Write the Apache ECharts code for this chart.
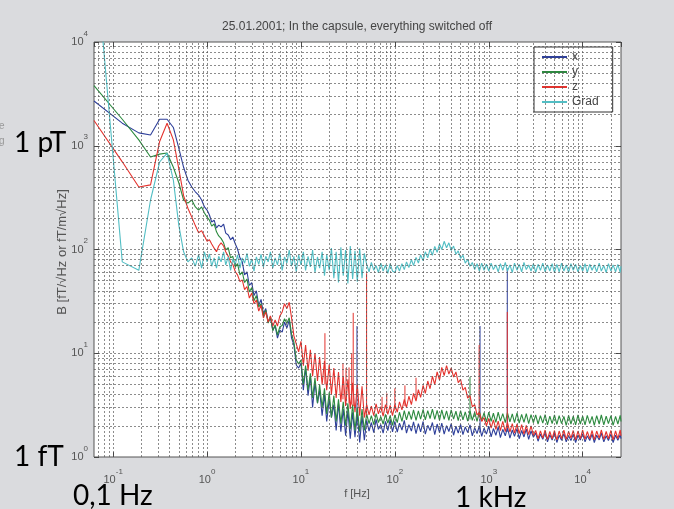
<!DOCTYPE html>
<html><head><meta charset="utf-8">
<script src="https://cdn.jsdelivr.net/npm/echarts@6/dist/echarts.min.js"></script>
<style>html,body{margin:0;padding:0;background:#dadbde}#c{width:674px;height:509px}</style>
</head><body><div id="c"></div>
<script>
const freq = [0.0625,0.125,0.1875,0.25,0.3125,0.375,0.4375,0.5,0.5625,0.625,0.6875,0.75,0.8125,0.875,0.9375,1,
1.06,1.12,1.19,1.26,1.33,1.41,1.5,1.58,1.68,1.78,1.88,2,2.11,2.24,2.37,2.51,2.66,2.82,2.99,3.16,3.35,3.55,3.76,3.98,4.22,4.47,4.73,5.01,5.31,5.62,5.96,6.31,6.68,7.08,7.5,7.94,8.41,8.91,9.44,
10,10.6,11.2,11.9,12.6,13.3,14.1,15,15.8,16.8,17.8,18.8,20,21.1,22.4,23.7,25.1,26.6,28.2,29.9,31.6,33.5,35.5,37.6,39.8,42.2,44.7,47.3,50.1,53.1,56.2,59.6,63.1,66.8,70.8,75,79.4,84.1,89.1,94.4,
100,106,112,119,126,133,141,150,158,168,178,188,200,211,224,237,251,266,282,299,316,335,355,376,398,422,447,473,501,531,562,596,631,668,708,750,794,841,891,944,
1000,1060,1120,1190,1260,1330,1410,1500,1580,1680,1780,1880,2000,2110,2240,2370,2510,2660,2820,2990,3160,3350,3550,3760,3980,4220,4470,4730,5010,5310,5620,5960,6310,6680,7080,7500,7940,8410,8910,9440,
10000,10600,11200,11900,12600,13300,14100,15000,15800,16800,17800,18800,20000,21100,22400,23700,25100,25600];

const xVals = [2700,1650,1330,1270,1800,1800,1500,950,620,466,400,360,335,300,257,240,
215,184,192,161,172,165,176,144,138,124,132,113,101,83,76,57,61,45,48,36,40,29,33,24,27,20,22,16.7,18.3,14.0,16.7,16.0,20,17.5,20.9,14.0,12.0,7.7,7.2,
8.0,4.4,7.2,3.9,6.0,3.0,5.2,3.3,4.4,2.5,4.0,2.2,3.6,2.4,3.2,1.8,3.3,1.75,2.9,1.6,2.8,1.5,2.7,1.55,2.6,1.38,2.5,1.45,
2.25,1.78,2.15,1.72,2.3,1.85,2.05,1.7,2.2,1.8,2.28,1.75,
2.2,1.74,2.12,1.82,2.26,1.7,2.05,1.78,2.18,1.68,2.1,1.75,2.2,1.66,2.02,1.8,2.15,1.64,2.08,1.72,2.12,1.66,2.0,1.76,2.1,1.62,1.98,1.7,2.06,1.64,1.95,1.72,2.04,1.6,1.92,1.68,2.0,1.58,1.9,1.66,
1.98,1.56,1.88,1.62,1.95,1.54,1.85,1.6,1.92,1.52,1.82,1.58,1.88,1.5,1.8,1.56,1.86,1.48,1.78,1.55,1.7,1.42,1.66,1.48,1.72,1.4,1.64,1.46,1.7,1.38,1.62,1.45,1.68,1.4,1.6,1.44,1.66,1.38,1.62,1.46,
1.68,1.4,1.6,1.44,1.66,1.38,1.62,1.46,1.7,1.4,1.6,1.44,1.66,1.38,1.62,1.45,1.64,1.5];

const yVals = [3800,1800,1140,780,830,850,620,440,300,280,300,257,240,257,225,205,
192,168,176,148,135,128,116,99,104,83,86,68,73,57,61,48,52,39,43,32,36,28,30,23,26,19.5,22.5,16.5,18.8,15.0,18.0,18.5,21.5,19.5,22,15.3,12.8,8.6,7.9,
8.6,5.0,7.6,4.4,6.4,3.7,5.8,3.3,5.0,3.0,4.6,2.6,4.2,2.4,3.9,2.2,3.6,2.1,3.4,2.0,3.3,1.85,3.2,1.8,3.0,1.75,2.9,1.8,
2.6,2.1,2.5,2.05,2.62,2.15,2.45,2.08,2.58,2.12,2.5,2.02,
2.55,2.15,2.7,2.2,2.8,2.28,2.75,2.3,2.85,2.25,2.78,2.32,2.88,2.28,2.8,2.35,2.9,2.3,2.82,2.26,2.85,2.3,2.78,2.25,2.84,2.32,2.76,2.24,2.8,2.28,2.72,2.22,2.78,2.26,2.7,2.2,2.74,2.24,2.68,2.18,
2.7,2.2,2.64,2.16,2.7,2.22,2.62,2.14,2.68,2.18,2.6,2.14,2.66,2.12,2.58,2.16,2.62,2.1,2.56,2.14,2.55,2.08,2.5,2.12,2.56,2.04,2.48,2.1,2.54,2.06,2.5,2.1,2.46,2.02,2.52,2.08,2.48,2.04,2.54,2.08,
2.48,2.04,2.52,2.1,2.46,2.02,2.5,2.08,2.54,2.04,2.48,2.1,2.5,2.02,2.46,2.08,2.52,2.2];

const zVals = [1750,700,400,420,1100,1650,1140,600,330,250,205,170,145,152,135,120,
124,113,103,95,108,116,108,95,86,76,72,61,57,49,51,41,44,34,38,30,32.6,25.5,29,21.9,25,20,22.9,18.3,20.9,18.3,22.9,25,30,27,31,21.9,14.7,12.3,10.3,
13.0,7.6,12.0,6.8,10.8,6.0,10.0,5.4,9.2,5.0,8.4,4.4,7.8,4.0,7.2,3.7,6.6,3.4,6.0,3.1,5.6,2.9,5.2,2.7,5.0,2.5,4.8,2.4,
3.2,2.55,3.1,2.5,3.25,2.6,3.05,2.48,3.2,2.58,3.15,2.5,
3.2,2.7,3.4,2.85,3.6,3.0,3.85,3.2,4.1,3.45,4.45,3.75,4.9,4.1,5.4,4.55,6.0,5.0,6.6,5.5,7.3,6.1,7.6,6.3,7.2,5.9,6.6,5.2,5.6,4.4,4.7,3.7,3.9,3.05,3.2,2.55,2.7,2.2,2.4,2.0,
2.35,1.9,2.28,1.85,2.22,1.8,2.2,1.76,2.15,1.74,2.1,1.7,2.08,1.68,2.05,1.66,2.02,1.64,2.0,1.62,
1.8,1.5,1.78,1.52,1.82,1.48,1.76,1.5,1.8,1.46,1.78,1.5,1.82,1.48,1.76,1.52,1.8,1.46,1.78,1.5,1.82,1.48,1.76,1.5,1.8,1.46,1.78,1.52,1.82,1.48,1.76,1.5,1.8,1.46,1.78,1.5,1.82,1.6];

const gradVals = [100000,76,63,300,697,850,466,172,95,76,83,69,89,66,95,76,
90.5,69,83,66,86,76,95,71,85,63,81,72,89,66,83,74,92,69,81,62,85,72,90,68,86,76,95,66,83,71,92,63,85,74,99,69,86,61,89,
71,95,63,86,68,99,60,85,66,95,56,89,63,103,53,95,48,105,56,99,47,108,52,97,49,103,53,92,
72,61,75,63,70,60,74,62,71,59,73,62,
60,70,62,73,64,76,67,80,70,84,74,89,78,95,83,101,88,107,94,113,100,120,104,116,98,108,90,97,82,88,74,80,69,75,64,73,62,74,63,72,
62,74,64,71,61,73,63,75,62,71,60,74,63,72,61,75,64,71,62,73,60,72,63,74,61,71,62,73,60,72,61,74,62,71,60,73,63,72,61,70,
62,73,60,72,63,71,61,74,62,70,60,73,62,71,61,72,60,69];

// spikes: [frequency, floor, top]
const xSpikes = [[39.5,2.0,18.3],[807,1.75,18.3],[1575,1.75,66]];
const ySpikes = [[631,2.3,5.9]];
const zSpikes = [[18.0,5.0,15.6],[28.0,3.6,8.0],[30.2,3.5,7.2],[32.5,3.3,7.3],[34.7,3.2,10],[36.0,3.1,24.5],[50.0,2.5,59],[73,2.8,3.8],[82,2.8,4.1],[100,2.8,4.6],[128,3.1,4.9],[168,3.6,5.8],[790,2.4,12],[1575,1.9,25]];

const gridX = [0.07,0.08,0.09,0.1,0.2,0.3,0.4,0.5,0.6,0.7,0.8,0.9,1,2,3,4,5,6,7,8,9,10,20,30,40,50,60,70,80,90,100,200,300,400,500,600,700,800,900,1000,2000,3000,4000,5000,6000,7000,8000,9000,10000,20000];
const gridY = [2,3,4,5,6,7,8,9,10,20,30,40,50,60,70,80,90,100,200,300,400,500,600,700,800,900,1000,2000,3000,4000,5000,6000,7000,8000,9000];

const cX = '#2e3f9a', cY = '#2c8a3f', cZ = '#e4332e', cG = '#52bec4';
const FONT = '"Liberation Sans", Arial, sans-serif';

function pairs(vals){ return freq.map((f,i)=>[f, vals[i]]); }
function spikeData(sp){ const out=[]; sp.forEach(s=>{ out.push([s[0],s[1]]); out.push([s[0],s[2]]); out.push([s[0],'-']); }); return out; }

const labelRich = {
  b:{fontSize:11, fontFamily:FONT, color:'#555', lineHeight:14},
  s:{fontSize:8, fontFamily:FONT, color:'#555', lineHeight:8, padding:[0,0,17,0]}
};
const expFmt = v => '{b|10}{s|' + Math.round(Math.log10(v)) + '}';

const base = {type:'line', showSymbol:false, symbol:'none', animation:false, clip:true, silent:true, connectNulls:false, z:3};

const chart = echarts.init(document.getElementById('c'), null, {renderer:'canvas'});
chart.setOption({
  backgroundColor:'#dadbde',
  animation:false,
  grid:{left:94, top:42, right:53, bottom:52, show:true, backgroundColor:'#ffffff', borderColor:'#555', borderWidth:1},
  xAxis:[
    {type:'log', logBase:10, min:0.0625, max:25600, position:'bottom',
     axisLine:{show:false}, splitLine:{show:false},
     axisTick:{show:true, inside:true, length:5, lineStyle:{color:'#444'}},
     axisLabel:{formatter:expFmt, rich:labelRich, margin:16, showMinLabel:false, showMaxLabel:false}},
    {type:'log', logBase:10, min:0.0625, max:25600, position:'top',
     axisLine:{show:false}, splitLine:{show:false}, axisLabel:{show:false},
     axisTick:{show:true, inside:true, length:5, lineStyle:{color:'#444'}}}
  ],
  yAxis:[
    {type:'log', logBase:10, min:1, max:10000, position:'left',
     axisLine:{show:false}, splitLine:{show:false},
     axisTick:{show:true, inside:true, length:5, lineStyle:{color:'#444'}},
     axisLabel:{formatter:expFmt, rich:labelRich, margin:6}},
    {type:'log', logBase:10, min:1, max:10000, position:'right',
     axisLine:{show:false}, splitLine:{show:false}, axisLabel:{show:false},
     axisTick:{show:true, inside:true, length:5, lineStyle:{color:'#444'}}}
  ],
  legend:{data:['x','y','z','Grad'], orient:'vertical', left:534, top:47, itemWidth:25, itemHeight:2, icon:'rect',
    itemGap:3, padding:[4,14,4,8], backgroundColor:'#fff', borderColor:'#333', borderWidth:1, selectedMode:false,
    textStyle:{fontSize:12, color:'#444', fontFamily:FONT, lineHeight:12}},
  graphic:[
    {type:'text', x:357, y:27, style:{text:'25.01.2001; In the capsule, everything switched off', fill:'#444', font:'12px '+FONT, align:'center', verticalAlign:'middle', textAlign:'center', textVerticalAlign:'middle'}},
    {type:'text', x:62, y:252, rotation:Math.PI/2, style:{text:'B [fT/\u221AHz or fT/m\u221AHz]', fill:'#555', font:'13px '+FONT, align:'center', verticalAlign:'middle', textAlign:'center', textVerticalAlign:'middle'}},
    {type:'text', x:357, y:494, style:{text:'f [Hz]', fill:'#555', font:'11px '+FONT, align:'center', verticalAlign:'middle', textAlign:'center', textVerticalAlign:'middle'}},
    {type:'text', x:14, y:143, style:{text:'1 pT', fill:'#000', font:'28px Lato', align:'left', verticalAlign:'middle', textAlign:'left', textVerticalAlign:'middle'}},
    {type:'text', x:14, y:457, style:{text:'1 fT', fill:'#000', font:'28px Lato', align:'left', verticalAlign:'middle', textAlign:'left', textVerticalAlign:'middle'}},
    {type:'text', x:73, y:496, style:{text:'0,1 Hz', fill:'#000', font:'28px Lato', align:'left', verticalAlign:'middle', textAlign:'left', textVerticalAlign:'middle'}},
    {type:'text', x:455, y:498, style:{text:'1 kHz', fill:'#000', font:'28px Lato', align:'left', verticalAlign:'middle', textAlign:'left', textVerticalAlign:'middle'}},
    {type:'text', x:-1, y:126, style:{text:'e', fill:'#999', font:'10px '+FONT, align:'left', verticalAlign:'middle', textAlign:'left', textVerticalAlign:'middle'}},
    {type:'text', x:-1, y:141, style:{text:'g', fill:'#999', font:'10px '+FONT, align:'left', verticalAlign:'middle', textAlign:'left', textVerticalAlign:'middle'}}
  ],
  series:[
    {type:'line', name:'gridlines', data:[], silent:true, z:1, animation:false,
     markLine:{silent:true, animation:false, symbol:['none','none'], label:{show:false},
       lineStyle:{color:'#555', type:[2,2], width:0.8, opacity:0.85},
       data:[...gridX.map(v=>({xAxis:v})), ...gridY.map(v=>({yAxis:v}))]}},
    Object.assign({}, base, {name:'x', data:pairs(xVals), color:cX, itemStyle:{color:cX}, lineStyle:{width:1.1, color:cX}}),
    Object.assign({}, base, {name:'x spikes', data:spikeData(xSpikes), color:cX, lineStyle:{width:1, color:cX}}),
    Object.assign({}, base, {name:'y', data:pairs(yVals), color:cY, itemStyle:{color:cY}, lineStyle:{width:1.1, color:cY}}),
    Object.assign({}, base, {name:'y spikes', data:spikeData(ySpikes), color:cY, lineStyle:{width:1, color:cY}}),
    Object.assign({}, base, {name:'z', data:pairs(zVals), color:cZ, itemStyle:{color:cZ}, lineStyle:{width:1.1, color:cZ}}),
    Object.assign({}, base, {name:'z spikes', data:spikeData(zSpikes), color:cZ, lineStyle:{width:1, color:cZ}}),
    Object.assign({}, base, {name:'Grad', data:pairs(gradVals), color:cG, itemStyle:{color:cG}, lineStyle:{width:1.1, color:cG}})
  ]
});
</script></body></html>
